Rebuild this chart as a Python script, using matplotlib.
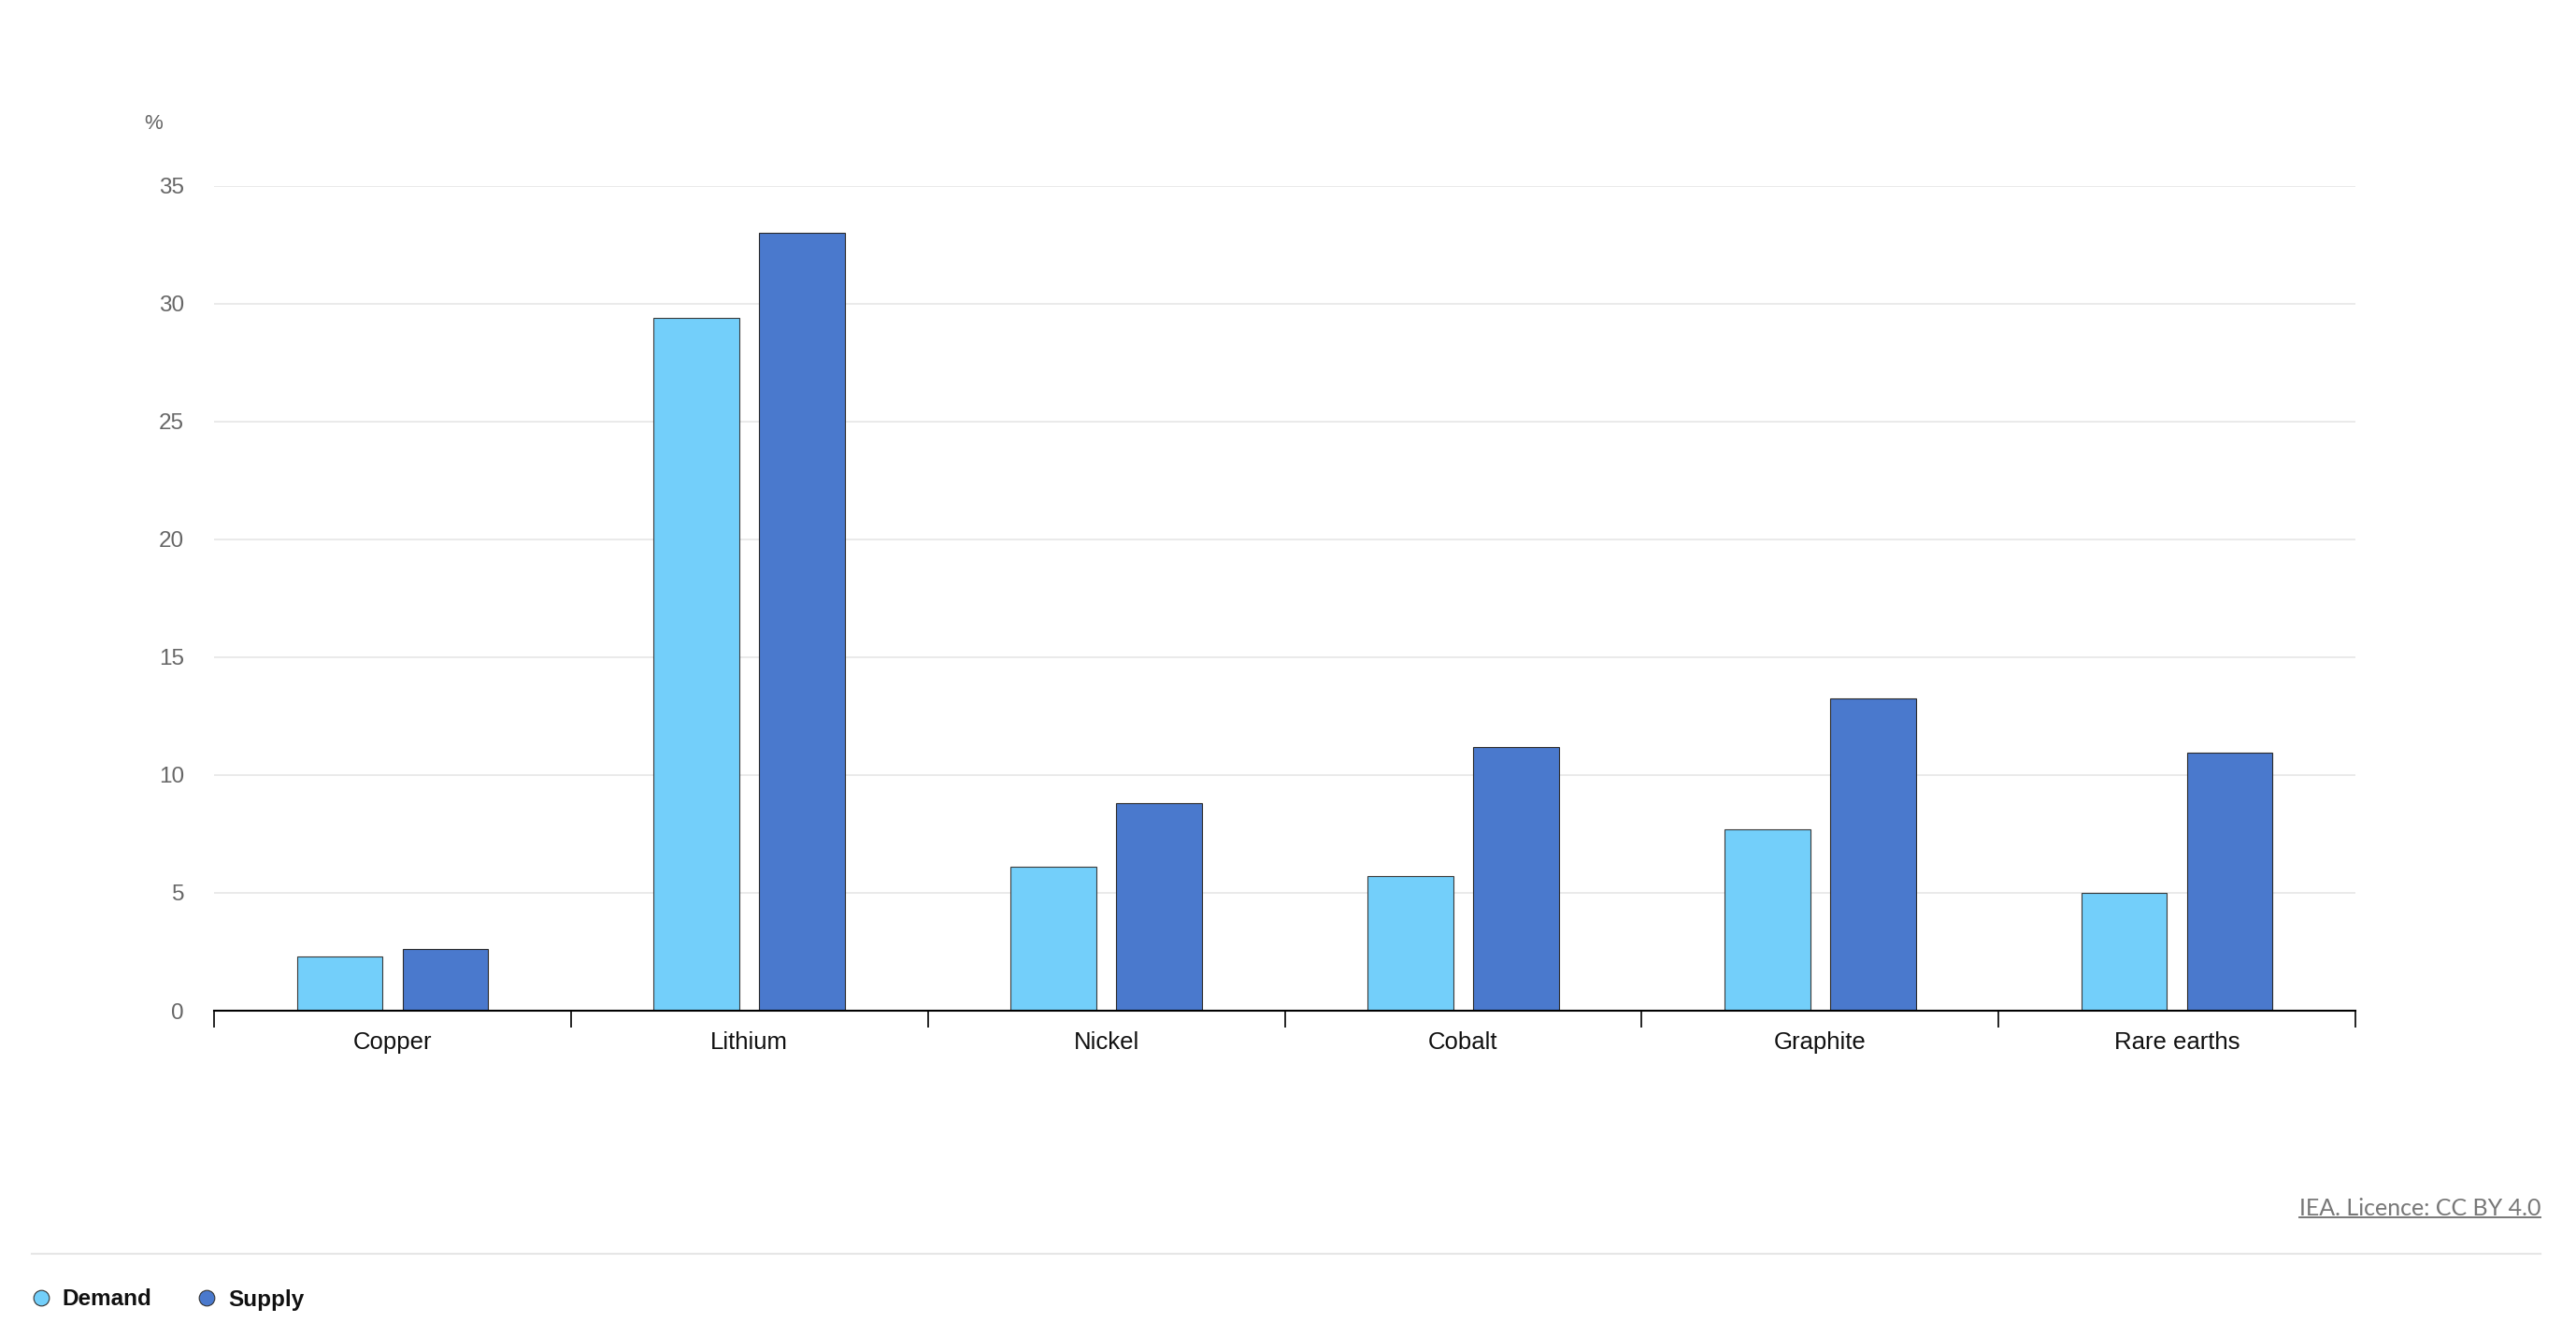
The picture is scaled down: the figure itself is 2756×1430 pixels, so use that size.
import numpy as np
import matplotlib
matplotlib.use('Agg')
import matplotlib.pyplot as plt
from matplotlib.lines import Line2D

# Data (%)
minerals = ['Copper', 'Lithium', 'Nickel', 'Cobalt', 'Graphite', 'Rare earths']
demand = [2.3, 29.4, 6.1, 5.7, 7.7, 5.0]
supply = [2.6, 33.0, 8.8, 11.2, 13.25, 10.95]
y_ticks = [0, 5, 10, 15, 20, 25, 30, 35]

c_demand = '#73CFFA'
c_supply = '#4A79CD'

plt.rcParams['font.family'] = ['Liberation Sans', 'DejaVu Sans']

W, H = 2756, 1430
fig = plt.figure(figsize=(W / 100, H / 100), dpi=100)
ax = fig.add_axes([229 / W, 1 - 1081 / H, (2520 - 229) / W, (1081 - 198.5) / H])

x = np.arange(len(minerals))
bw = 0.24
off = 0.148
ax.bar(x - off, demand, bw, color=c_demand, edgecolor='#3a3a3a', linewidth=0.8, zorder=3)
ax.bar(x + off, supply, bw, color=c_supply, edgecolor='#2a2a2a', linewidth=0.8, zorder=3)

ax.set_xlim(-0.5, len(minerals) - 0.5)
ax.set_ylim(0, 35)
ax.set_yticks(y_ticks)
ax.set_yticklabels([str(v) for v in y_ticks])
ax.grid(axis='y', color='#e6e6e6', linewidth=1.2, zorder=0)
ax.set_axisbelow(True)

# category labels at centers, boundary ticks as minor ticks
ax.set_xticks(x)
ax.set_xticklabels(minerals)
ax.set_xticks(np.arange(-0.5, len(minerals), 1), minor=True)
ax.tick_params(axis='x', which='major', length=0, pad=16, labelsize=18.5, labelcolor='#111111')
ax.tick_params(axis='x', which='minor', length=13, width=1.2, color='black')
ax.tick_params(axis='y', length=0, pad=23, labelsize=17.5, labelcolor='#666666')

for s in ['top', 'right', 'left']:
    ax.spines[s].set_visible(False)
ax.spines['bottom'].set_color('black')
ax.spines['bottom'].set_linewidth(1.5)
ax.spines['bottom'].set_zorder(4)

fig.text(154 / W, 1 - 132 / H, '%', fontsize=16, color='#666666', ha='left', va='center')

# separator line
fig.add_artist(Line2D([34 / W, 2718 / W], [1 - 1341 / H, 1 - 1341 / H], color='#e6e6e6', linewidth=1.5))

# licence text (underlined)
lic = fig.text(2718 / W, 1 - 1292 / H, 'IEA. Licence: CC BY 4.0', fontsize=18, color='#777777',
               ha='right', va='center', family=['Lato', 'DejaVu Sans'])
fig.canvas.draw()
bb = lic.get_window_extent(renderer=fig.canvas.get_renderer())
fig.add_artist(Line2D([bb.x0 / W, bb.x1 / W], [1 - 1302 / H, 1 - 1302 / H], color='#777777', linewidth=1.4))

# legend
handles = [Line2D([], [], marker='o', linestyle='none', markersize=12, markerfacecolor=c_demand,
                  markeredgecolor='#333333', markeredgewidth=0.8, label='Demand'),
           Line2D([], [], marker='o', linestyle='none', markersize=12, markerfacecolor=c_supply,
                  markeredgecolor='#333333', markeredgewidth=0.8, label='Supply')]
leg = fig.legend(handles=handles, loc='center left', bbox_to_anchor=(12 / W, 1 - 1390 / H), ncol=2,
                 frameon=False, handlelength=0.8, handletextpad=0.55, columnspacing=2.0,
                 prop={'size': 17.5, 'weight': 'bold'})
for t in leg.get_texts():
    t.set_color('#111111')

fig.savefig('out.png', dpi=100, facecolor='white')
